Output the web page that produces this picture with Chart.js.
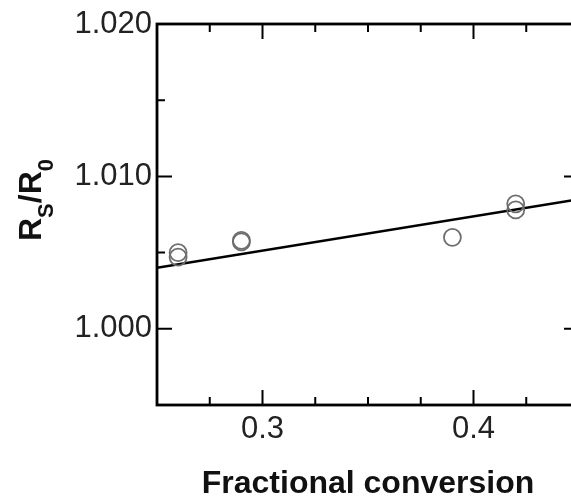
<!DOCTYPE html>
<html>
<head>
<meta charset="utf-8">
<script src="https://cdn.jsdelivr.net/npm/chart.js@4.4.0/dist/chart.umd.min.js"></script>
<style>
  html, body { margin: 0; padding: 0; overflow: hidden; background: #fff; }
  #wrap { width: 600px; height: 500px; }
</style>
</head>
<body>
<div id="wrap"><canvas id="chart" width="600" height="500"></canvas></div>
<script>
// measured points (fractional conversion vs Rs/R0)
const conversion = [0.26, 0.26, 0.29, 0.29, 0.39, 0.42, 0.42];
const ratio = [1.0050, 1.0047, 1.0058, 1.0057, 1.0060, 1.0082, 1.0078];

// linear fit
const fitX = [0.25, 0.45];
const fitY = [1.0040, 1.0085];

// labelled ticks
const xLabels = [0.3, 0.4];
const yLabels = [1.000, 1.010, 1.020];

const FONT = "'Liberation Sans', Arial, Helvetica, sans-serif";

function isMajor(list, v) {
  return list.some(m => Math.abs(m - v) < 1e-9);
}

// frame, inward ticks and axis titles
const framePlugin = {
  id: 'frame',
  afterDraw(chart) {
    const ctx = chart.ctx;
    const a = chart.chartArea;
    const xs = chart.scales.x, ys = chart.scales.y;
    ctx.save();
    ctx.strokeStyle = '#000';
    ctx.lineWidth = 2.8;
    ctx.strokeRect(a.left, a.top, a.right - a.left, a.bottom - a.top);

    ctx.lineWidth = 2;
    ctx.beginPath();
    xs.ticks.forEach(t => {
      const px = xs.getPixelForValue(t.value);
      if (px <= a.left + 1 || px >= a.right - 1) return;
      const len = isMajor(xLabels, t.value) ? 15 : 8;
      ctx.moveTo(px, a.bottom); ctx.lineTo(px, a.bottom - len);
      ctx.moveTo(px, a.top); ctx.lineTo(px, a.top + len);
    });
    ys.ticks.forEach(t => {
      const py = ys.getPixelForValue(t.value);
      if (py <= a.top + 1 || py >= a.bottom - 1) return;
      const len = isMajor(yLabels, t.value) ? 15 : 8;
      ctx.moveTo(a.left, py); ctx.lineTo(a.left + len, py);
      ctx.moveTo(a.right, py); ctx.lineTo(a.right - len, py);
    });
    ctx.stroke();

    // x title
    ctx.fillStyle = '#111';
    ctx.font = 'bold 32px ' + FONT;
    ctx.textAlign = 'center';
    ctx.textBaseline = 'middle';
    ctx.fillText('Fractional conversion', (a.left + a.right) / 2, 484);

    // y title with subscripts
    const parts = [
      { t: 'R', size: 32, dy: 0 },
      { t: 'S', size: 22, dy: 12 },
      { t: '/R', size: 32, dy: 0 },
      { t: '0', size: 22, dy: 12 }
    ];
    ctx.textAlign = 'left';
    ctx.textBaseline = 'alphabetic';
    let total = 0;
    parts.forEach(p => { ctx.font = 'bold ' + p.size + 'px ' + FONT; p.w = ctx.measureText(p.t).width; total += p.w; });
    ctx.translate(41, 200);
    ctx.rotate(-Math.PI / 2);
    let x = -total / 2;
    parts.forEach(p => {
      ctx.font = 'bold ' + p.size + 'px ' + FONT;
      ctx.fillText(p.t, x, p.dy);
      x += p.w;
    });
    ctx.restore();
  }
};

new Chart(document.getElementById('chart'), {
  type: 'scatter',
  data: {
    datasets: [
      {
        label: 'data',
        data: conversion.map((v, i) => ({ x: v, y: ratio[i] })),
        pointStyle: 'circle',
        pointRadius: 8.5,
        pointBorderWidth: 1.8,
        pointBorderColor: '#6e6e6e',
        pointBackgroundColor: 'rgba(0,0,0,0)'
      },
      {
        label: 'fit',
        type: 'line',
        data: fitX.map((v, i) => ({ x: v, y: fitY[i] })),
        borderColor: '#000',
        borderWidth: 2.5,
        pointRadius: 0,
        showLine: true
      }
    ]
  },
  options: {
    responsive: false,
    animation: false,
    layout: { padding: { top: 24, right: 21, left: 0, bottom: 0 } },
    plugins: { legend: { display: false }, tooltip: { enabled: false } },
    scales: {
      x: {
        type: 'linear',
        min: 0.25,
        max: 0.45,
        grid: { display: false, drawTicks: false },
        border: { display: false },
        afterFit: s => { s.height = 95; },
        ticks: {
          stepSize: 0.025,
          autoSkip: false,
          maxRotation: 0,
          padding: 6,
          color: '#222',
          font: { family: FONT, size: 31 },
          callback: v => isMajor(xLabels, v) ? v.toFixed(1) : ''
        }
      },
      y: {
        type: 'linear',
        min: 0.995,
        max: 1.020,
        grid: { display: false, drawTicks: false },
        border: { display: false },
        afterFit: s => { s.width = 157; },
        ticks: {
          stepSize: 0.005,
          autoSkip: false,
          padding: 5,
          color: '#222',
          font: { family: FONT, size: 31 },
          callback: v => isMajor(yLabels, v) ? v.toFixed(3) : ''
        }
      }
    }
  },
  plugins: [framePlugin]
});
</script>
</body>
</html>
